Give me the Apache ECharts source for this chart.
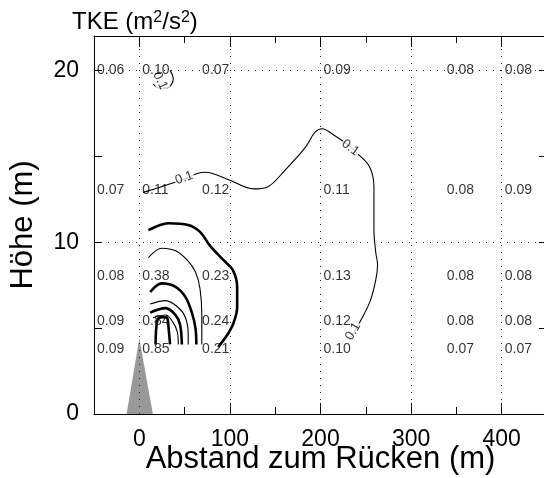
<!DOCTYPE html>
<html>
<head>
<meta charset="utf-8">
<script src="https://cdn.jsdelivr.net/npm/echarts@6/dist/echarts.min.js"></script>
<style>
  html, body { margin: 0; padding: 0; background: #fff; }
  #main { width: 544px; height: 478px; }
</style>
</head>
<body>
<div id="main"></div>
<script>
const font = 'Liberation Sans, Arial, Helvetica, sans-serif'

// Messpunkte (Abstand, Höhe) und TKE-Werte
const xPos = [-50, 0, 66, 200, 336, 400]
const yPos = [20, 13, 8, 5.4, 3.8]
const tkeRows = [
  [0.06, 0.10, 0.07, 0.09, 0.08, 0.08],
  [0.07, 0.11, 0.12, 0.11, 0.08, 0.09],
  [0.08, 0.38, 0.23, 0.13, 0.08, 0.08],
  [0.09, 0.84, 0.24, 0.12, 0.08, 0.08],
  [0.09, 0.85, 0.21, 0.10, 0.07, 0.07]
]

// Achsen
const xTicks = [-50, 0, 50, 100, 150, 200, 250, 300, 350, 400, 450]
const xMajor = [0, 100, 200, 300, 400]
const yTicks = [0, 5, 10, 15, 20]
const yLabels = [0, 10, 20]
const gridY = [10, 20]

// Isolinien
const iso01 = [[4, 12.9], [23, 13.2], [51, 13.7], [64, 14.0], [73, 14.07], [100, 13.6], [126, 13.1], [141, 13.2],
  [161, 14.2], [183, 15.5], [194, 16.4], [202, 16.6], [213, 16.3], [232, 15.6], [240, 15.2], [254, 14.4],
  [259, 13.2], [259, 10.7], [261, 9.4], [263, 8.7], [261, 7.8], [255, 6.6], [245, 5.5], [232, 4.3]]
const iso01top = [[34, 20.0], [37.5, 19.5], [32, 19.0], [23, 18.95], [15.5, 19.2]]
const isoA = [[10, 10.7], [23, 11.0], [32, 11.1], [54, 11.0], [67, 10.6], [78, 9.8], [93, 8.95], [103, 8.4],
  [108, 7.4], [108, 6.2], [104, 5.3], [97, 4.6], [87, 3.9]]
const isoB = [[10, 9.1], [25, 9.65], [40, 9.5], [53, 8.95], [62, 8.26], [67, 7.3], [69, 5.75], [69, 4.05]]
const isoC = [[12, 7.1], [25, 7.6], [40, 7.4], [51, 6.8], [58, 5.9], [62, 5.0], [63, 4.05]]
const isoD = [[12, 6.4], [29, 6.6], [43, 6.2], [51, 5.6], [54, 4.6], [54, 4.05]]
const isoE = [[12, 5.9], [29, 6.16], [40, 5.76], [45, 5.2], [47, 4.05]]
const isoF = [[15, 5.6], [29, 5.76], [37, 5.35], [42, 4.77], [43, 4.05]]
const isoG = [[18, 4.05], [20, 5.47], [25, 5.64], [31, 5.58], [32, 5.17], [34, 4.05]]
const isoLabels = [[49.6, 13.74, 19], [233, 15.5, -37], [236, 4.8, 59], [23, 19.4, -65]]

// Rücken (Hügel)
const hill = [[-14, 0], [0, 4.4], [15, 0]]

const pointData = []
yPos.forEach((y, r) => {
  xPos.forEach((x, c) => pointData.push([x, y, tkeRows[r][c]]))
})

function isoSeries(data, width) {
  return {
    type: 'line', data: data, symbol: 'none', smooth: 0.35, silent: true, z: 4,
    lineStyle: { color: '#000', width: width }
  }
}

const xBase = { type: 'value', min: -50, max: 450, splitLine: { show: false } }
const yBase = { type: 'value', min: 0, max: 22, splitLine: { show: false } }

let myChart = echarts.init(document.getElementById('main'))
myChart.setOption({
  animation: false,
  backgroundColor: '#fff',
  title: {
    text: '{a|TKE (m}{s|2}{a|/s}{s|2}{a|)}',
    left: 67, top: 5,
    textStyle: {
      fontWeight: 'normal',
      rich: {
        a: { fontSize: 24, fontFamily: font, fontWeight: 'normal', color: '#000' },
        s: { fontSize: 16, fontFamily: font, fontWeight: 'normal', color: '#000', padding: [0, 0, 9, 0] }
      }
    }
  },
  grid: { left: 94, top: 36, width: 453, height: 378, outerBoundsMode: 'none', containLabel: false },
  xAxis: [
    Object.assign({}, xBase, {
      position: 'bottom',
      axisLine: { onZero: false, lineStyle: { color: '#000', width: 1 } },
      axisTick: { inside: true, length: 7, customValues: xTicks, lineStyle: { color: '#000' } },
      axisLabel: { customValues: xMajor, fontSize: 23, fontFamily: font, color: '#000', margin: 14 },
      name: 'Abstand zum Rücken (m)', nameLocation: 'middle', nameGap: 30, nameMoveOverlap: false,
      nameTextStyle: { fontSize: 31, fontFamily: font, color: '#000' }
    }),
    Object.assign({}, xBase, {
      position: 'bottom',
      axisLine: { show: false, onZero: false },
      axisTick: { inside: true, length: 11, customValues: xMajor, lineStyle: { color: '#000' } },
      axisLabel: { show: false }
    }),
    Object.assign({}, xBase, {
      position: 'top',
      axisLine: { onZero: false, lineStyle: { color: '#000', width: 1 } },
      axisTick: { inside: true, length: 7, customValues: xTicks, lineStyle: { color: '#000' } },
      axisLabel: { show: false }
    }),
    Object.assign({}, xBase, {
      position: 'top',
      axisLine: { show: false, onZero: false },
      axisTick: { inside: true, length: 11, customValues: xMajor, lineStyle: { color: '#000' } },
      axisLabel: { show: false }
    })
  ],
  yAxis: [
    Object.assign({}, yBase, {
      position: 'left',
      axisLine: { onZero: false, lineStyle: { color: '#000', width: 1 } },
      axisTick: { inside: true, length: 8, customValues: yTicks, lineStyle: { color: '#000' } },
      axisLabel: { customValues: yLabels, fontSize: 23, fontFamily: font, color: '#000', margin: 15 },
      name: 'Höhe (m)', nameLocation: 'middle', nameGap: 55, nameRotate: 90, nameMoveOverlap: false,
      nameTextStyle: { fontSize: 31, fontFamily: font, color: '#000' }
    }),
    Object.assign({}, yBase, {
      position: 'right',
      axisLine: { onZero: false, lineStyle: { color: '#000', width: 1 } },
      axisTick: { inside: true, length: 8, customValues: yTicks, lineStyle: { color: '#000' } },
      axisLabel: { show: false }
    })
  ],
  series: [
    {
      type: 'line', data: hill, symbol: 'none', silent: true, z: 1,
      lineStyle: { width: 0, color: '#999' },
      areaStyle: { color: '#999', opacity: 1 }
    },
    {
      type: 'line', data: [], z: 3,
      markLine: {
        silent: true, symbol: 'none', animation: false,
        label: { show: false },
        lineStyle: { type: [1, 6], color: '#222', width: 1 },
        data: xMajor.map(v => ({ xAxis: v })).concat(gridY.map(v => ({ yAxis: v })))
      }
    },
    isoSeries(iso01, 1.1),
    isoSeries(iso01top, 1.1),
    isoSeries(isoA, 2.6),
    isoSeries(isoB, 1.1),
    isoSeries(isoC, 2.6),
    isoSeries(isoD, 1.1),
    isoSeries(isoE, 2.6),
    isoSeries(isoF, 1.1),
    isoSeries(isoG, 2.6),
    {
      type: 'scatter', symbolSize: 0, silent: true, z: 6,
      data: isoLabels.map(d => ({ value: [d[0], d[1]], label: { rotate: d[2] } })),
      label: {
        show: true, position: 'inside', formatter: '0.1',
        fontSize: 13, fontFamily: font, color: '#000', backgroundColor: '#fff', padding: [0, 1]
      }
    },
    {
      type: 'scatter', symbolSize: 0, silent: true, z: 7,
      data: pointData,
      label: {
        show: true, position: 'right', distance: 3,
        formatter: p => p.value[2].toFixed(2),
        fontSize: 14, fontFamily: font, color: '#000'
      }
    }
  ]
})
</script>
</body>
</html>
